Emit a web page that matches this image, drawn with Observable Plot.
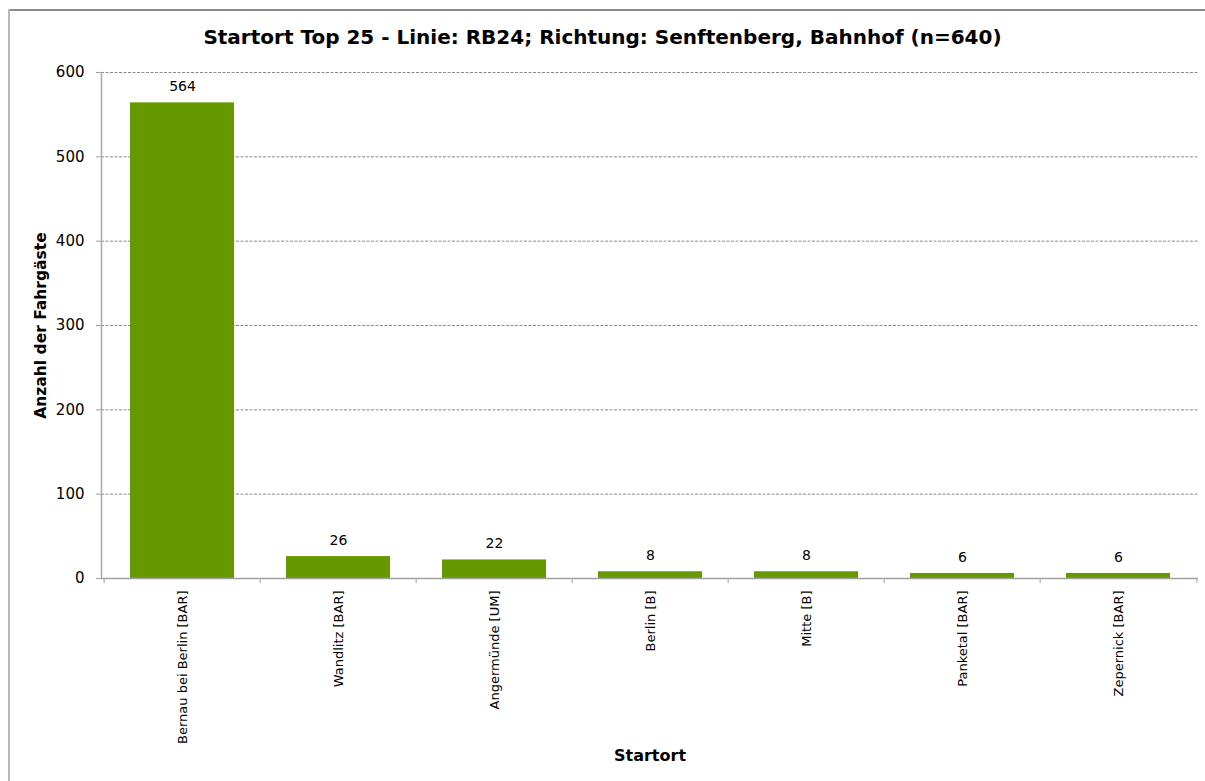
<!DOCTYPE html>
<html>
<head>
<meta charset="utf-8">
<script src="https://cdn.jsdelivr.net/npm/d3@7"></script>
<script src="https://cdn.jsdelivr.net/npm/@observablehq/plot@0.6"></script>
<style>
  html, body { margin: 0; padding: 0; background: #fff; overflow: hidden; }
  #wrap { position: relative; width: 1205px; height: 781px; overflow: hidden; font-family: "DejaVu Sans", sans-serif; }
  #hline { position: absolute; left: 8px; top: 9px; width: 1197px; height: 2px; background: #8c8c8c; }
  #vline { position: absolute; left: 8px; top: 9px; width: 2px; height: 772px; background: #b8b8b8; }
  #title { position: absolute; left: 0; top: 25px; width: 1205px; text-align: center; font-weight: bold; font-size: 20px; color: #000; }
  #chart { position: absolute; left: 0; top: 56px; }
</style>
</head>
<body>
<div id="wrap">
  <div id="hline"></div>
  <div id="vline"></div>
  <div id="title">Startort Top 25 - Linie: RB24; Richtung: Senftenberg, Bahnhof (n=640)</div>
  <div id="chart"></div>
</div>
<script>
const categories = ["Bernau bei Berlin [BAR]", "Wandlitz [BAR]", "Angermünde [UM]", "Berlin [B]", "Mitte [B]", "Panketal [BAR]", "Zepernick [BAR]"];
const values = [564, 26, 22, 8, 8, 6, 6];
const yTicks = [0, 100, 200, 300, 400, 500, 600];

const data = categories.map((c, i) => ({cat: c, value: values[i]}));

const W = 1205, H = 725;
const mL = 101, mR = 7, mT = 16, mB = 203;
const step = (W - mL - mR) / categories.length;

const chart = Plot.plot({
  width: W,
  height: H,
  marginLeft: mL,
  marginRight: mR,
  marginTop: mT,
  marginBottom: mB,
  style: {fontFamily: "DejaVu Sans, sans-serif", background: "transparent", color: "#000"},
  x: {domain: categories, paddingInner: 0.336, paddingOuter: 0.168, axis: null},
  y: {domain: [0, 600], axis: null},
  marks: [
    Plot.gridY(yTicks.filter(d => d > 0), {stroke: "#8a8a8a", strokeOpacity: 1, strokeDasharray: "3,1.5", strokeWidth: 1}),
    Plot.axisY(yTicks, {tickSize: 5, tickPadding: 12, fontSize: 15, stroke: "#a0a0a0", label: null, tickFormat: d => d}),
    Plot.barY(data, {x: "cat", y: "value", fill: "#669900"}),
    Plot.ruleY([0], {stroke: "#a0a0a0", strokeWidth: 1.5}),
    Plot.frame({anchor: "left", stroke: "#a8a8a8", strokeWidth: 1.5}),
    Plot.axisX(categories, {tickSize: 5, stroke: "#a0a0a0", dx: -step / 2, tickFormat: () => "", label: null}),
    Plot.axisX([categories[categories.length - 1]], {tickSize: 5, stroke: "#a0a0a0", dx: step / 2, tickFormat: () => "", label: null}),
    Plot.axisX(categories, {tickSize: 0, tickPadding: 12, tickRotate: -90, fontSize: 13, label: null}),
    Plot.text(data, {x: "cat", y: "value", text: d => String(d.value), dy: -16, fontSize: 14, fill: "#000"}),
    Plot.text(["Anzahl der Fahrgäste"], {text: d => d, frameAnchor: "left", textAnchor: "middle", rotate: -90, dx: -60, fontSize: 15.5, fontWeight: "bold", fill: "#000"}),
    Plot.text(["Startort"], {text: d => d, frameAnchor: "bottom", dy: 182, fontSize: 16, fontWeight: "bold", fill: "#000"})
  ]
});
document.getElementById("chart").appendChild(chart);
</script>
</body>
</html>
